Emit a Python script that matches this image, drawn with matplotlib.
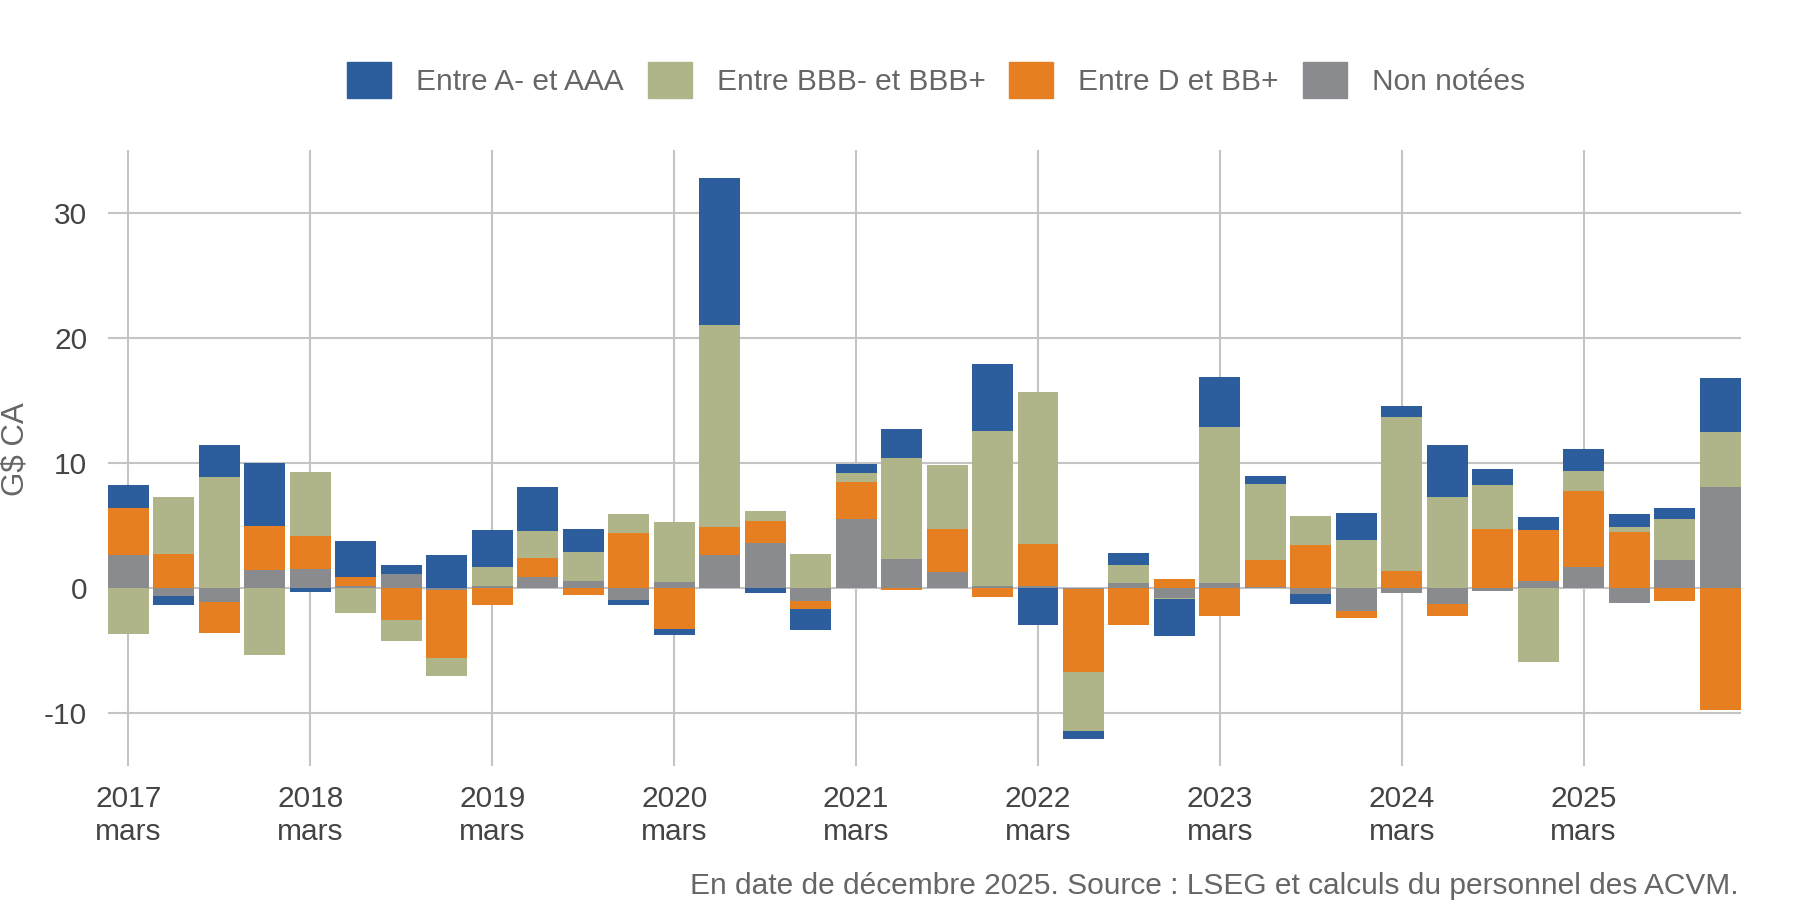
import numpy as np
import pandas as pd
import matplotlib
matplotlib.use("Agg")
import matplotlib.pyplot as plt
from matplotlib.patches import Patch

plt.rcParams["font.family"] = ["Liberation Sans", "DejaVu Sans"]
plt.rcParams["axes.unicode_minus"] = False
FS = 21.5

# quarterly net issuance by rating bucket, G$ CA
quarters = pd.period_range("2017Q1", "2025Q4", freq="Q")
non_notees = [2.69, -0.65, -1.13, 1.46, 1.57, 0.19, 1.14, -0.18, 0.19, 0.93, 0.59, -0.93,
              0.51, 2.66, 3.62, -1.01, 5.53, 2.34, 1.30, 0.19, 0.19, -0.10, 0.43, -0.82,
              0.43, 0.13, -0.50, -1.86, -0.37, -1.23, -0.26, 0.59, 1.70, -1.20, 2.26, 8.09]
d_bb = [3.72, 2.74, -2.47, 3.51, 2.61, 0.74, -2.50, -5.41, -1.38, 1.49, -0.53, 4.41,
        -3.24, 2.23, 1.75, -0.64, 2.95, -0.18, 3.43, -0.74, 3.35, -6.60, -2.97, 0.74,
        -2.18, 2.13, 3.46, -0.54, 1.38, -1.02, 4.73, 4.06, 6.07, 4.49, -1.04, -9.73]
bbb = [-3.68, 4.55, 8.88, -5.30, 5.10, -2.00, -1.74, -1.43, 1.51, 2.15, 2.31, 1.52,
       4.78, 16.13, 0.80, 2.74, 0.72, 8.06, 5.11, 12.36, 12.12, -4.71, 1.43, -0.08,
       12.44, 6.06, 2.31, 3.86, 12.29, 7.29, 3.51, -5.90, 1.59, 0.40, 3.27, 4.38]
a_aaa = [1.83, -0.71, 2.56, 5.03, -0.27, 2.85, 0.72, 2.66, 2.95, 3.52, 1.83, -0.40,
         -0.48, 11.73, -0.37, -1.67, 0.72, 2.31, 0.00, 5.35, -2.90, -0.64, 0.96, -2.95,
         3.99, 0.64, -0.79, 2.15, 0.88, 4.15, 1.28, 1.04, 1.76, 1.04, 0.88, 4.31]

# stacking order bottom -> top
series = [("Non notées", non_notees, "#8a8b8f"),
          ("Entre D et BB+", d_bb, "#e67f22"),
          ("Entre BBB- et BBB+", bbb, "#afb588"),
          ("Entre A- et AAA", a_aaa, "#2c5e9e")]

x = np.arange(len(quarters))
fig = plt.figure(figsize=(18, 9), dpi=100)
ax = fig.add_axes([0.06, 0.149, 0.907, 0.684])

pos_b = np.zeros(len(x)); neg_b = np.zeros(len(x))
for name, vals, col in series:
    v = np.array(vals)
    pos = np.clip(v, 0, None); neg = np.clip(v, None, 0)
    ax.bar(x, pos, bottom=pos_b, width=0.9, color=col, lw=0, zorder=3)
    ax.bar(x, neg, bottom=neg_b, width=0.9, color=col, lw=0, zorder=3)
    pos_b += pos; neg_b += neg

ax.set_xlim(-0.45, len(x) - 0.55)
ax.set_ylim(-14.2, 35)
ax.set_yticks([-10, 0, 10, 20, 30])
q1 = [i for i, q in enumerate(quarters) if q.quarter == 1]
ax.set_xticks(q1)
ax.set_xticklabels([f"{quarters[i].year}\nmars" for i in q1])
ax.grid(True, color="#c4c4c4", lw=1.5, zorder=0)
for s in ax.spines.values():
    s.set_visible(False)
ax.tick_params(axis="y", length=0, pad=15, labelsize=FS, labelcolor="#444444")
ax.tick_params(axis="x", length=0, pad=14, labelsize=FS, labelcolor="#444444")

fig.text(0.0, 0.149 + 0.684 / 2 + 0.01, "G$ CA", rotation=90, ha="left", va="center",
         fontsize=22.5, color="#666666")

handles = [Patch(color=c, label=n) for n, _, c in series[::-1]]
fig.legend(handles=handles, loc="center", bbox_to_anchor=(0.52, 0.911), ncol=4,
           frameon=False, fontsize=FS, handlelength=1.47, handleheight=1.44,
           handletextpad=0.84, columnspacing=0.8, labelcolor="#666666")

fig.text(0.966, 1 - 886 / 900,
         "En date de décembre 2025. Source : LSEG et calculs du personnel des ACVM.",
         ha="right", va="center", fontsize=FS, color="#666666")

fig.savefig("out.png", dpi=100)
